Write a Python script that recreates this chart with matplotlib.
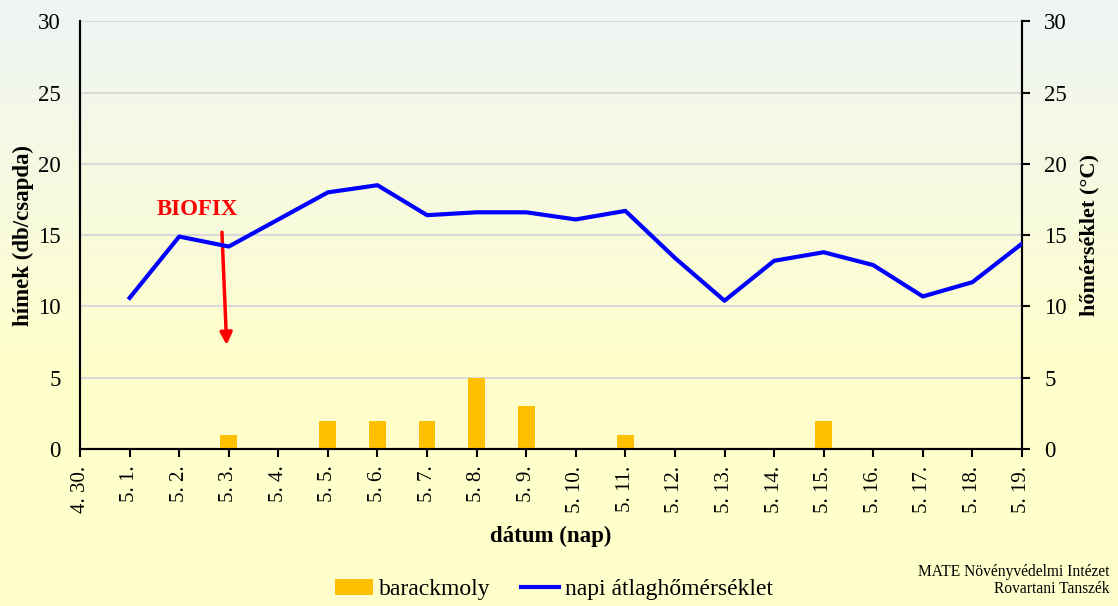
import matplotlib
matplotlib.use("Agg")
import matplotlib.pyplot as plt
import numpy as np
from matplotlib.colors import LinearSegmentedColormap

plt.rcParams['font.family'] = ['Liberation Serif', 'DejaVu Serif']

dates = ['4. 30.', '5. 1.', '5. 2.', '5. 3.', '5. 4.', '5. 5.', '5. 6.', '5. 7.', '5. 8.', '5. 9.',
         '5. 10.', '5. 11.', '5. 12.', '5. 13.', '5. 14.', '5. 15.', '5. 16.', '5. 17.', '5. 18.', '5. 19.']
barackmoly = [0, 0, 0, 1, 0, 2, 2, 2, 5, 3, 0, 1, 0, 0, 0, 2, 0, 0, 0, 0]
homerseklet = [None, 10.6, 14.9, 14.2, 16.1, 18.0, 18.5, 16.4, 16.6, 16.6,
               16.1, 16.7, 13.4, 10.4, 13.2, 13.8, 12.9, 10.7, 11.7, 14.4]

x = np.arange(len(dates))
temp = np.array([np.nan if v is None else v for v in homerseklet])

fig = plt.figure(figsize=(11.18, 6.06), dpi=100)

# background gradient
bg = fig.add_axes([0, 0, 1, 1], zorder=-10)
cmap = LinearSegmentedColormap.from_list('bg', [(0, '#FFFFCC'), (0.4, '#FFFFCC'), (1, '#EEF5F5')])
grad = np.linspace(0, 1, 256).reshape(-1, 1)
bg.imshow(grad, aspect='auto', cmap=cmap, origin='lower', extent=[0, 1, 0, 1])
bg.axis('off')

ax = fig.add_axes([0.0716, 0.259, 0.8425, 0.706])
ax.patch.set_alpha(0)
ax2 = ax.twinx()

ax.bar(x, barackmoly, width=0.34, color='#FFC000', label='barackmoly', zorder=3)
ax2.plot(x, temp, color='#0000FF', lw=3, label='napi átlaghőmérséklet', zorder=4)

for a in (ax, ax2):
    a.set_ylim(0, 30)
    a.set_yticks(range(0, 31, 5))
    a.spines['top'].set_visible(False)
ax.set_xlim(0, len(dates) - 1)
ax.set_xticks(x)
ax.set_xticklabels(dates, rotation=90, fontsize=15)
ax.yaxis.grid(True, color='#D9D9D9', lw=1.5, zorder=0)
ax.set_axisbelow(True)
ax.tick_params(axis='y', length=0, labelsize=16.5, pad=14)
ax.tick_params(axis='x', length=6, width=1.5, direction='out', pad=6)
ax2.tick_params(axis='y', length=6, width=1.5, labelsize=16.5, pad=10)
for a in (ax, ax2):
    for s in ('left', 'right', 'bottom'):
        a.spines[s].set_linewidth(1.5)

ax.set_xlabel('dátum (nap)', fontsize=16.5, fontweight='bold', labelpad=9)
ax.set_ylabel('hímek (db/csapda)', fontsize=16.5, fontweight='bold', labelpad=3)
ax2.set_ylabel('hőmérséklet (°C)', fontsize=16, fontweight='bold', labelpad=9)

# BIOFIX arrow
ax2.annotate('', xy=(2.96, 7.1), xytext=(2.86, 15.4),
             arrowprops=dict(arrowstyle='-|>', color='#FF0000', lw=2.5, mutation_scale=18))
ax2.text(2.36, 16.8, 'BIOFIX', color='#FF0000', fontsize=16.5, fontweight='bold', ha='center', va='center')

h1, l1 = ax.get_legend_handles_labels()
h2, l2 = ax2.get_legend_handles_labels()
fig.legend(h1 + h2, l1 + l2, loc='center', bbox_to_anchor=(0.4955, 0.027), ncol=2, frameon=False,
           fontsize=17, handlelength=1.65, columnspacing=1.25, handletextpad=0.25)

fig.text(0.992, 0.056, 'MATE Növényvédelmi Intézet', ha='right', va='center', fontsize=11.2)
fig.text(0.992, 0.028, 'Rovartani Tanszék', ha='right', va='center', fontsize=11.2)

fig.savefig('out.png', dpi=100)
